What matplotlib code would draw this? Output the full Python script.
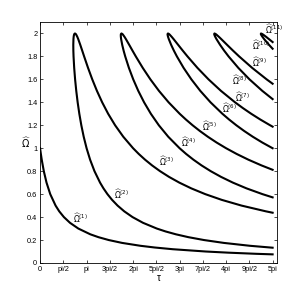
import numpy as np
import matplotlib
matplotlib.use("Agg")
import matplotlib.pyplot as plt

plt.rcParams['font.family'] = ['Liberation Sans', 'DejaVu Sans']
plt.rcParams['mathtext.fontset'] = 'dejavusans'

# branch values (tau, Omega-hat)
om1 = [1.0, 0.98, 0.95, 0.9, 0.8, 0.7, 0.6, 0.5, 0.45, 0.4, 0.35, 0.3, 0.25, 0.225, 0.2, 0.175, 0.15, 0.135,
       0.12, 0.1, 0.09, 0.08, 0.0752]
tau1 = [0.0, 0.0204, 0.0527, 0.1113, 0.2518, 0.4353, 0.6858, 1.0472, 1.2942, 1.6088, 2.0217, 2.5847, 3.3924,
        3.943, 4.6365, 5.540, 6.7733, 7.742, 8.9658, 11.198, 12.713, 14.601, 15.708]

om2 = [2.0, 1.995, 1.99, 1.98, 1.97, 1.95, 1.9, 1.85, 1.8, 1.7, 1.6, 1.5, 1.4, 1.3, 1.2, 1.1, 1.0, 0.9, 0.8, 0.7,
       0.65, 0.6, 0.55, 0.5, 0.45, 0.4, 0.35, 0.3, 0.275, 0.25, 0.225, 0.2, 0.175, 0.15, 0.1332]
tau2 = [2.3562, 2.3120, 2.2970, 2.2788, 2.2674, 2.2537, 2.2428, 2.2473, 2.2605, 2.3041, 2.3657, 2.4435, 2.5379,
        2.6510, 2.7858, 2.9471, 3.1416, 3.3793, 3.6753, 4.0527, 4.2831, 4.5502, 4.8633, 5.2360, 5.6871, 6.2453,
        6.9543, 7.8873, 8.474, 9.1740, 10.020, 11.0715, 12.412, 14.171, 15.708]

om3 = [2.0, 1.995, 1.99, 1.97, 1.95, 1.9, 1.85, 1.8, 1.7, 1.6, 1.5, 1.4, 1.3, 1.2, 1.1, 1.0, 0.95, 0.9, 0.85,
       0.8, 0.75, 0.7, 0.65, 0.6, 0.55, 0.5, 0.45, 0.438]
tau3 = [2.3562, 2.4122, 2.4391, 2.5168, 2.5795, 2.7176, 2.8472, 2.9755, 3.2399, 3.5248, 3.8397, 4.1941, 4.5988,
        5.0682, 5.6209, 6.2832, 6.6665, 7.0927, 7.5692, 8.1058, 8.7145, 9.4113, 10.217, 11.158, 12.273, 13.614,
        15.257, 15.708]

om4 = [2.0, 1.995, 1.99, 1.98, 1.97, 1.95, 1.9, 1.85, 1.8, 1.7, 1.6, 1.5, 1.4, 1.3, 1.2, 1.1, 1.0, 0.95, 0.9,
       0.85, 0.8, 0.75, 0.7, 0.65, 0.6, 0.5718]
tau4 = [5.4978, 5.4615, 5.4543, 5.4522, 5.4569, 5.4759, 5.5498, 5.6437, 5.7512, 6.0001, 6.2927, 6.6323, 7.0259,
        7.4842, 8.0218, 8.6591, 9.4248, 9.868, 10.3607, 10.911, 11.529, 12.229, 13.029, 13.949, 15.022, 15.708]

om5 = [2.0, 1.995, 1.99, 1.97, 1.95, 1.9, 1.85, 1.8, 1.7, 1.6, 1.5, 1.4, 1.3, 1.25, 1.2, 1.15, 1.1, 1.05, 1.0,
       0.95, 0.9, 0.85, 0.812]
tau5 = [5.4978, 5.5617, 5.5965, 5.7062, 5.8016, 6.0245, 6.2435, 6.4662, 6.9359, 7.4518, 8.0285, 8.6821, 9.4321,
        9.851, 10.304, 10.796, 11.333, 11.920, 12.566, 13.281, 14.074, 14.961, 15.708]

om6 = [2.0, 1.995, 1.99, 1.98, 1.97, 1.95, 1.9, 1.85, 1.8, 1.7, 1.6, 1.5, 1.4, 1.3, 1.25, 1.2, 1.15, 1.1, 1.05,
       1.0]
tau6 = [8.6394, 8.6109, 8.6117, 8.6255, 8.6463, 8.6981, 8.8567, 9.0400, 9.2418, 9.6961, 10.2197, 10.8211, 11.5139,
        12.3175, 12.769, 13.2578, 13.790, 14.3711, 15.008, 15.708]

om7 = [2.0, 1.995, 1.99, 1.97, 1.95, 1.9, 1.85, 1.8, 1.7, 1.6, 1.5, 1.4, 1.35, 1.3, 1.25, 1.2, 1.188]
tau7 = [8.6394, 8.7112, 8.7539, 8.8956, 9.0238, 9.3315, 9.6398, 9.9568, 10.6319, 11.3788, 12.2173, 13.1701, 13.698,
        14.2653, 14.878, 15.5402, 15.708]

om8 = [2.0, 1.995, 1.99, 1.98, 1.97, 1.95, 1.9, 1.85, 1.8, 1.7, 1.6, 1.5, 1.428]
tau8 = [11.781, 11.7604, 11.7691, 11.7988, 11.8357, 11.9202, 12.1637, 12.4363, 12.7325, 13.3921, 14.1467, 15.0099,
        15.708]

om9 = [2.0, 1.995, 1.99, 1.97, 1.95, 1.9, 1.85, 1.8, 1.7, 1.6, 1.562]
tau9 = [11.781, 11.8606, 11.9113, 12.0850, 12.2459, 12.6384, 13.0360, 13.4474, 14.3278, 15.3058, 15.708]

om10 = [2.0, 1.995, 1.99, 1.98, 1.97, 1.95, 1.9, 1.867]
tau10 = [14.9226, 14.910, 14.9264, 14.9721, 15.0251, 15.1423, 15.4706, 15.708]

om11 = [2.0, 1.995, 1.99, 1.97, 1.95, 1.925]
tau11 = [14.9226, 15.0101, 15.0686, 15.2745, 15.4681, 15.708]

# curve labels
lab_num = [1, 2, 3, 4, 5, 6, 7, 8, 9, 10, 11]
lab_tau = [2.2, 5.0, 8.0, 9.5, 10.95, 12.3, 13.15, 12.95, 14.3, 14.3, 15.2]
lab_om = [0.39, 0.60, 0.89, 1.05, 1.19, 1.345, 1.445, 1.595, 1.75, 1.895, 2.04]

xtick_labels = ['0', 'pi/2', 'pi', '3pi/2', '2pi', '5pi/2', '3pi', '7pi/2', '4pi', '9pi/2', '5pi']
ytick_labels = ['0', '0.2', '0.4', '0.6', '0.8', '1', '1.2', '1.4', '1.6', '1.8', '2']

fig = plt.figure(figsize=(3.06, 2.97), dpi=100)
ax = fig.add_axes([0.131, 0.1145, 0.774, 0.8115])

lw = 1.5
ax.plot(tau1, om1, color='black', lw=lw)
# hairpins: left branch reversed, then right branch from the tip
pairs = [(tau2, om2, tau3, om3), (tau4, om4, tau5, om5), (tau6, om6, tau7, om7),
         (tau8, om8, tau9, om9), (tau10, om10, tau11, om11)]
for ta, oa, tb, ob in pairs:
    t = list(ta[::-1]) + list(tb[1:])
    o = list(oa[::-1]) + list(ob[1:])
    ax.plot(t, o, color='black', lw=lw, solid_joinstyle='round')

for n, t, o in zip(lab_num, lab_tau, lab_om):
    ax.text(t, o, r'$\widehat{\Omega}^{(%d)}$' % n, fontsize=5.5, ha='left', va='center')

ax.set_xlim(0, 16)
ax.set_ylim(0, 2.1)
ax.set_xticks(np.arange(11) * np.pi / 2)
ax.set_xticklabels(xtick_labels)
ax.set_yticks(np.arange(11) * 0.2)
ax.set_yticklabels(ytick_labels)
ax.tick_params(direction='in', length=2.5, width=0.5, labelsize=5.3, top=True, right=True, pad=2)
for s in ax.spines.values():
    s.set_linewidth(0.6)

ax.set_xlabel('τ', fontsize=7, labelpad=0)
ax.set_ylabel(r'$\widehat{\Omega}$', fontsize=7, rotation=0, labelpad=1, va='center')

fig.savefig('out.png', dpi=100)
